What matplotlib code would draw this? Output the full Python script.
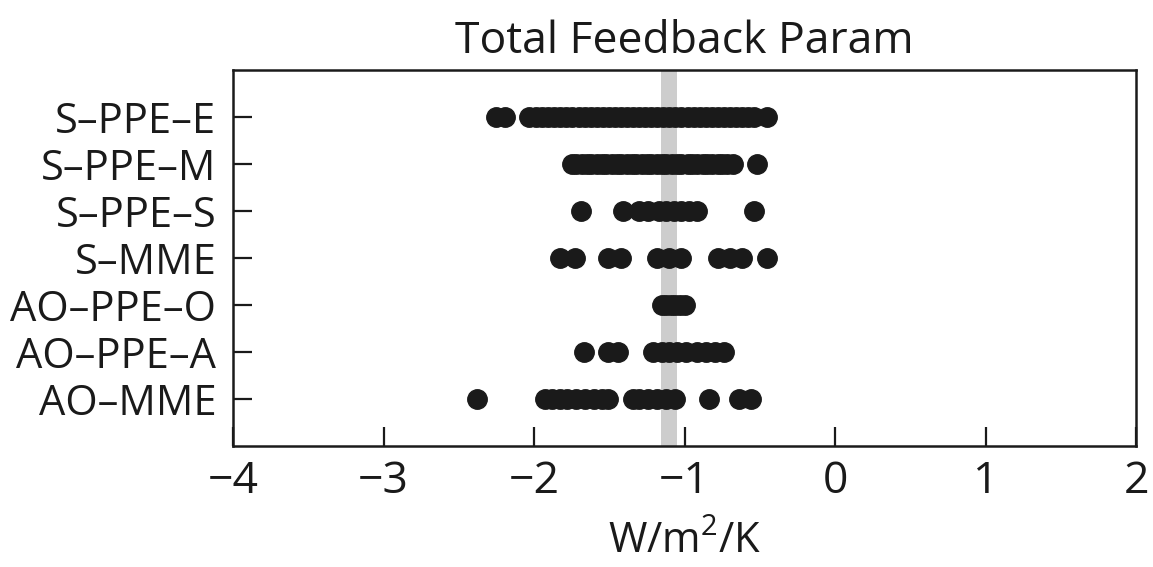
import matplotlib
matplotlib.use("Agg")
import matplotlib.pyplot as plt

plt.rcParams['font.family'] = ['Open Sans', 'DejaVu Sans']
plt.rcParams['mathtext.fontset'] = 'custom'
plt.rcParams['mathtext.rm'] = 'Open Sans'

# ensembles, top to bottom
labels = ['S–PPE–E', 'S–PPE–M', 'S–PPE–S', 'S–MME', 'AO–PPE–O', 'AO–PPE–A', 'AO–MME']

s_ppe_e = [-2.25, -2.19, -2.03, -1.99, -1.95, -1.91, -1.87, -1.83, -1.79, -1.75,
           -1.70, -1.66, -1.62, -1.58, -1.54, -1.50, -1.46, -1.42, -1.38, -1.34,
           -1.30, -1.26, -1.22, -1.18, -1.14, -1.10, -1.06, -1.02, -0.98, -0.94,
           -0.90, -0.86, -0.82, -0.78, -0.74, -0.70, -0.66, -0.62, -0.58, -0.54,
           -0.45]
s_ppe_m = [-1.75, -1.72, -1.68, -1.65, -1.62, -1.58, -1.55, -1.52, -1.48, -1.45,
           -1.42, -1.38, -1.35, -1.32, -1.28, -1.25, -1.22, -1.18, -1.15, -1.12,
           -1.08, -1.05, -1.02, -0.98, -0.95, -0.92, -0.88, -0.85, -0.82, -0.78,
           -0.75, -0.72, -0.68, -0.52]
s_ppe_s = [-1.69, -1.41, -1.30, -1.24, -1.17, -1.12, -1.07, -1.02, -0.97, -0.92,
           -0.54]
s_mme = [-1.83, -1.73, -1.51, -1.42, -1.18, -1.10, -1.02, -0.78, -0.70, -0.62,
         -0.45]
ao_ppe_o = [-1.15, -1.12, -1.09, -1.06, -1.03, -1.00]
ao_ppe_a = [-1.67, -1.51, -1.44, -1.21, -1.15, -1.10, -1.05, -0.99, -0.92, -0.86,
            -0.80, -0.74]
ao_mme = [-2.38, -1.93, -1.88, -1.83, -1.78, -1.72, -1.66, -1.60, -1.55, -1.51,
          -1.34, -1.30, -1.24, -1.18, -1.12, -1.06, -0.84, -0.64, -0.56]

groups = [s_ppe_e, s_ppe_m, s_ppe_s, s_mme, ao_ppe_o, ao_ppe_a, ao_mme]

# observational estimate band
band_lo, band_hi = -1.155, -1.05

fig = plt.figure(figsize=(11.53, 5.67), dpi=100)
ax = fig.add_axes([233 / 1153, 1 - 446 / 567, (1136 - 233) / 1153, (446 - 70) / 567])

ax.axvspan(band_lo, band_hi, color='#cdcdcd', lw=0, zorder=0)

n = len(groups)
for i, vals in enumerate(groups):
    ax.plot(vals, [n - i] * len(vals), 'o', color='#1a1a1a', ms=14,
            mec='#1a1a1a', zorder=3)

ax.set_xlim(-4, 2)
ax.set_ylim(0, n + 1)
ax.set_xticks(range(-4, 3))
ax.set_xticklabels([str(v).replace('-', '−') for v in range(-4, 3)])
ax.set_yticks(range(n, 0, -1))
ax.set_yticklabels(labels)

ax.tick_params(axis='both', direction='in', length=14, width=1.6, colors='#1a1a1a')
ax.tick_params(axis='x', labelsize=32, pad=10)
ax.tick_params(axis='y', labelsize=30, pad=12)
for sp in ax.spines.values():
    sp.set_linewidth(1.8)
    sp.set_color('#1a1a1a')

ax.set_title('Total Feedback Param', fontsize=32, pad=12, color='#1a1a1a')
ax.set_xlabel(r'$\mathregular{W/m^2/K}$', fontsize=30, labelpad=12, color='#1a1a1a')

fig.savefig('out.png', dpi=100)
